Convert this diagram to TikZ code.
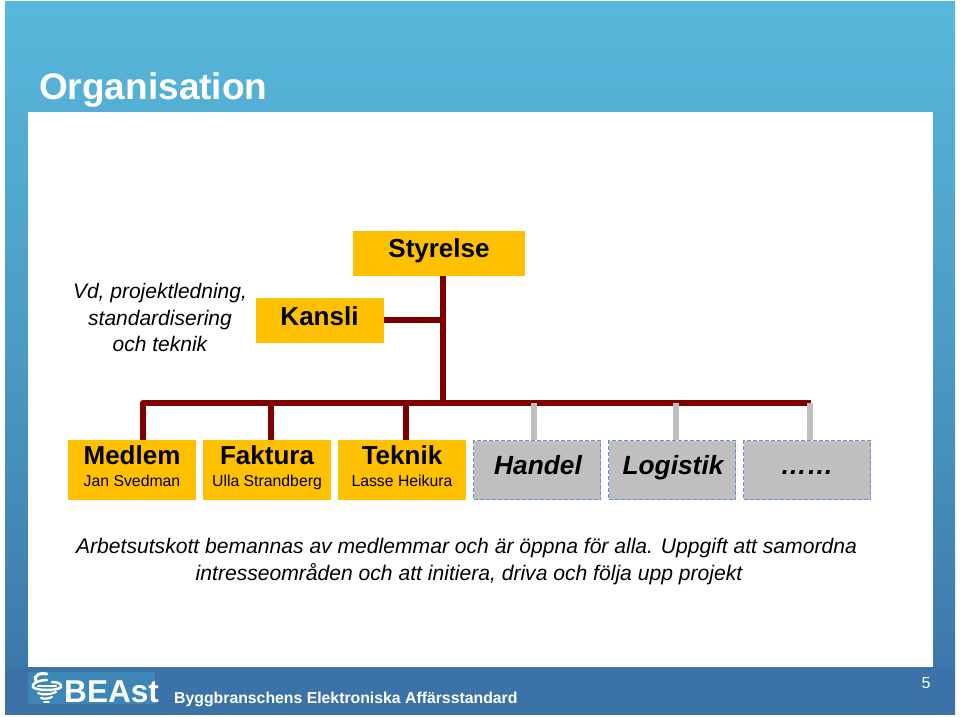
\documentclass[tikz,border=0pt]{standalone}
\usepackage{fontspec}
\setmainfont{Liberation Sans}
\usetikzlibrary{positioning}
\definecolor{bartop}{HTML}{58B8DC}
\definecolor{barbot}{HTML}{3B73A8}
\definecolor{logoblue}{HTML}{3C86B8}
\definecolor{boxgold}{HTML}{FFC000}
\definecolor{linered}{HTML}{7F0000}
\definecolor{boxgrey}{HTML}{BFBFBF}
\definecolor{dashblue}{HTML}{6C8FD0}
\tikzset{
  unitbox/.style={fill=boxgold,minimum width=128pt,minimum height=60pt,inner sep=0pt,align=center},
  groupbox/.style={fill=boxgrey,draw=dashblue,dash pattern=on 4pt off 2pt,line width=1pt,minimum width=127pt,minimum height=59pt,inner sep=0pt,text height=16pt,text depth=8pt,font=\fontsize{26.3}{30}\selectfont\bfseries\itshape},
  redline/.style={linered,line width=6.5pt},
  greyline/.style={boxgrey,line width=6.5pt},
  bigname/.style={inner sep=0pt,font=\fontsize{26}{30}\selectfont\bfseries},
  smallname/.style={inner sep=0pt,text height=12pt,text depth=3.5pt,font=\fontsize{15.8}{18}\selectfont},
  notetext/.style={font=\fontsize{21.1}{27}\selectfont\itshape,align=center},
  swirl/.style={white,line width=2.2pt,line cap=round}
}
\begin{document}
\begin{tikzpicture}[x=1pt,y=-1pt]
\useasboundingbox (0,0) rectangle (960,716);
% background
\fill[white] (0,0) rectangle (960,716);
\shade[top color=bartop,bottom color=barbot,middle color=bartop!55!barbot] (5,1) rectangle (955,714);
\fill[white] (28,112) rectangle (933,667);
\fill[barbot] (5,667) rectangle (955,714);
\node[anchor=base west,text=white,font=\fontsize{37}{40}\selectfont\bfseries,inner sep=0pt] (title) at (39,99) {Organisation};

% top boxes
\node[unitbox,minimum width=172pt,minimum height=45pt,text height=19pt,text depth=10pt] (styrelse) at (439,253) {\fontsize{26}{30}\selectfont\bfseries Styrelse};
\node[unitbox,minimum width=128pt,minimum height=45pt,text height=19pt,text depth=9pt] (kansli) at (319.5,320) {\fontsize{26}{30}\selectfont\bfseries Kansli};
\node[notetext,font=\fontsize{21}{26.5}\selectfont\itshape] (vd) at (160,317.5) {Vd, projektledning,\\standardisering\\och teknik};

% member boxes
\node[unitbox] (medlem) at (132,470) {};
\node[bigname] (medlemname) at (132,455) {Medlem};
\node[smallname] (medlemperson) at (132,482.5) {Jan Svedman};
\node[unitbox] (faktura) at (267,470) {};
\node[bigname] (fakturaname) at (267,455) {Faktura};
\node[smallname] (fakturaperson) at (267,482.5) {Ulla Strandberg};
\node[unitbox] (teknik) at (402,470) {};
\node[bigname] (teknikname) at (402,455) {Teknik};
\node[smallname] (teknikperson) at (402,482.5) {Lasse Heikura};

% working groups
\node[groupbox] (handel) at (537,470) {\hspace*{2pt}Handel};
\node[groupbox] (logistik) at (672,470) {\hspace*{2pt}Logistik};
\node[groupbox] (more) at (807,470) {……};

% tree
\coordinate (busleft) at (143,403);
\coordinate (busright) at (811,403);
\coordinate (busmid) at (443,403);
\coordinate (kanslimid) at (443,320);
\coordinate (faktop) at (271,403);
\coordinate (tektop) at (406,403);
\coordinate (handtop) at (534,403);
\coordinate (logtop) at (676,403);
\coordinate (moretop) at (810,403);
\draw[redline] (busmid |- styrelse.south) -- (busmid);
\draw[redline] (kansli.east) -- (kanslimid);
\draw[redline,line join=round] (busright) -- (busleft) -- (busleft |- medlem.north);
\draw[redline] (faktop) -- (faktop |- faktura.north);
\draw[redline] (tektop) -- (tektop |- teknik.north);
\draw[greyline] (handtop) -- (handtop |- handel.north);
\draw[greyline] (logtop) -- (logtop |- logistik.north);
\draw[greyline] (moretop) -- (moretop |- more.north);

% note
\node[notetext] (note) at (466.5,562) {Arbetsutskott bemannas av medlemmar och är öppna för alla. Uppgift att samordna\\\hspace*{5pt}intresseområden och att initiera, driva och följa upp projekt};

% footer
\fill[logoblue] (28,672) rectangle (155,704);
\draw[swirl,line width=3pt] (36,681) .. controls (33,675) and (41,672) .. (47,674);
\draw[swirl,line width=2.5pt] (47,680) .. controls (38,680) and (31,684) .. (33,687) .. controls (36,691) and (58,691) .. (61,687) .. controls (62,684) and (58,682) .. (52,682);
\draw[swirl] (38,686) -- (56,686);
\draw[swirl] (38,693) .. controls (42,695) and (50,695) .. (56,692);
\draw[swirl] (41,698) .. controls (44,699) and (48,699) .. (52,697);
\draw[swirl,line width=1.8pt] (44,702) -- (49,702);
\node[anchor=base west,text=white,font=\fontsize{31.6}{36}\selectfont\bfseries,inner sep=0pt] (beast) at (64,702) {BEAst};
\node[anchor=base west,text=white,font=\fontsize{15.8}{20}\selectfont\bfseries,inner sep=0pt] (footer) at (174,703) {Byggbranschens Elektroniska Affärsstandard};
\node[text=white,font=\fontsize{16}{20}\selectfont,inner sep=0pt] (page) at (926,683) {5};
\end{tikzpicture}
\end{document}
